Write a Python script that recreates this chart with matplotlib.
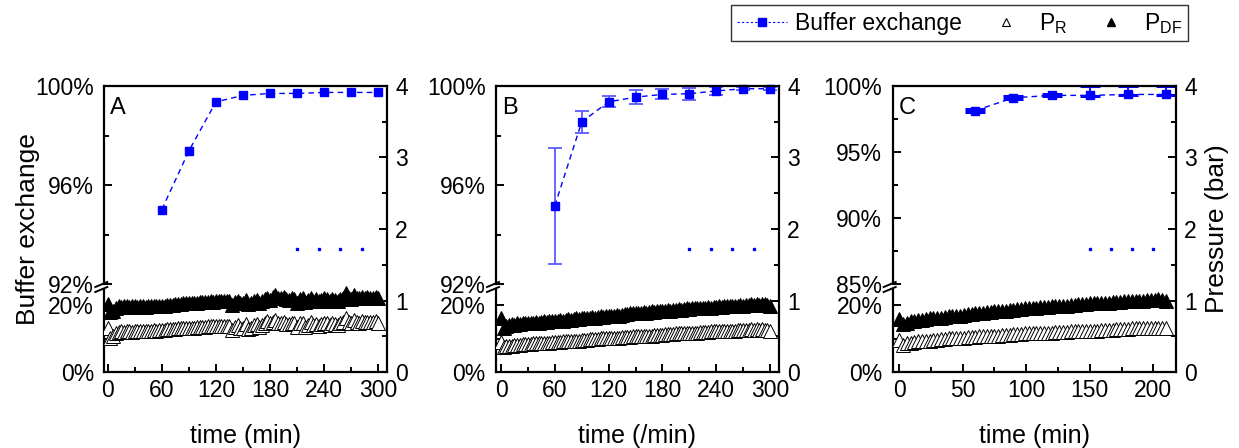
import numpy as np
import matplotlib
matplotlib.use("Agg")
import matplotlib.pyplot as plt
from matplotlib.lines import Line2D
from matplotlib.ticker import MultipleLocator, FuncFormatter

plt.rcParams['font.family'] = ['Liberation Sans', 'DejaVu Sans']
plt.rcParams['mathtext.default'] = 'regular'

# ---- buffer exchange (%), sampled every 30 min ----
bx_time_ab = [60, 90, 120, 150, 180, 210, 240, 270, 300]
bx_time_c = [60, 90, 120, 150, 180, 210]
bx_a = [95.01, 97.38, 99.36, 99.62, 99.70, 99.70, 99.74, 99.74, 99.74]
bx_b = [95.16, 98.55, 99.36, 99.55, 99.66, 99.69, 99.80, 99.89, 99.89]
bx_b_err = [2.34, 0.44, 0.22, 0.28, 0.20, 0.24, 0.15, 0.05, 0.05]
bx_c = [98.14, 99.11, 99.29, 99.29, 99.36, 99.36]
bx_c_err_lo = [0.12, 0.10, 0.08, 0.05, 0.05, 0.05]
bx_c_err_hi = [0.12, 0.10, 0.08, 0.68, 0.62, 0.62]

# dotted marks at ~1.7 bar
dot_time_ab = [210, 234, 258, 282]
dot_time_c = [150, 167, 183, 200]
dot_p = [1.72, 1.72, 1.72, 1.72]

# ---- pressures (bar), logged every 3 min ----
p_time_ab = np.arange(0, 301, 3)
p_time_c = np.arange(0, 211, 3)

pdf_a = [0.95, 0.84, 0.86, 0.90, 0.92, 0.91, 0.93, 0.92, 0.91, 0.93,
         0.92, 0.91, 0.92, 0.92, 0.91, 0.92, 0.92, 0.93, 0.92, 0.93,
         0.93, 0.93, 0.94, 0.94, 0.94, 0.95, 0.95, 0.95, 0.96, 0.96,
         0.96, 0.97, 0.97, 0.97, 0.98, 0.98, 0.98, 0.98, 0.99, 0.98,
         0.99, 0.99, 0.99, 0.99, 1.00, 0.99, 0.94, 0.98, 1.00, 0.96,
         0.97, 1.01, 0.95, 0.96, 1.00, 1.01, 0.97, 1.00, 1.02, 1.04,
         1.01, 1.05, 1.07, 1.03, 1.04, 1.05, 1.02, 1.01, 1.03, 1.02,
         0.97, 1.02, 1.03, 0.98, 1.01, 1.04, 1.00, 1.02, 0.99, 1.01,
         1.03, 1.02, 1.00, 1.02, 1.01, 1.00, 1.02, 1.04, 1.10, 1.04,
         1.02, 1.07, 1.04, 1.03, 1.05, 1.04, 1.05, 1.04, 1.04, 1.05,
         1.03]
pr_a = [0.62, 0.47, 0.50, 0.55, 0.56, 0.57, 0.56, 0.57, 0.57, 0.56,
        0.57, 0.57, 0.58, 0.57, 0.58, 0.58, 0.58, 0.59, 0.58, 0.59,
        0.59, 0.59, 0.60, 0.60, 0.60, 0.60, 0.61, 0.61, 0.61, 0.62,
        0.62, 0.62, 0.62, 0.63, 0.63, 0.63, 0.63, 0.64, 0.64, 0.64,
        0.64, 0.65, 0.65, 0.65, 0.65, 0.65, 0.59, 0.63, 0.66, 0.61,
        0.62, 0.67, 0.60, 0.61, 0.66, 0.67, 0.63, 0.66, 0.68, 0.71,
        0.68, 0.70, 0.73, 0.68, 0.69, 0.70, 0.67, 0.67, 0.68, 0.68,
        0.63, 0.68, 0.69, 0.63, 0.66, 0.70, 0.66, 0.67, 0.65, 0.67,
        0.68, 0.68, 0.66, 0.68, 0.67, 0.66, 0.68, 0.70, 0.75, 0.70,
        0.68, 0.73, 0.70, 0.69, 0.71, 0.70, 0.70, 0.70, 0.70, 0.71,
        0.69]

pdf_b = [0.75, 0.62, 0.65, 0.66, 0.67, 0.66, 0.68, 0.67, 0.68, 0.68,
         0.68, 0.69, 0.69, 0.70, 0.69, 0.70, 0.71, 0.70, 0.71, 0.72,
         0.71, 0.72, 0.73, 0.72, 0.73, 0.74, 0.73, 0.74, 0.75, 0.74,
         0.75, 0.76, 0.75, 0.76, 0.77, 0.76, 0.77, 0.78, 0.77, 0.78,
         0.79, 0.78, 0.79, 0.80, 0.79, 0.80, 0.81, 0.81, 0.82, 0.82,
         0.83, 0.82, 0.83, 0.84, 0.83, 0.84, 0.85, 0.84, 0.85, 0.86,
         0.85, 0.86, 0.87, 0.86, 0.87, 0.87, 0.88, 0.87, 0.88, 0.89,
         0.88, 0.89, 0.89, 0.90, 0.89, 0.90, 0.90, 0.91, 0.90, 0.91,
         0.91, 0.92, 0.91, 0.92, 0.92, 0.93, 0.92, 0.93, 0.93, 0.94,
         0.93, 0.94, 0.94, 0.95, 0.94, 0.95, 0.94, 0.95, 0.95, 0.94,
         0.92]
pr_b = [0.42, 0.35, 0.36, 0.37, 0.37, 0.38, 0.38, 0.38, 0.39, 0.39,
        0.39, 0.39, 0.40, 0.40, 0.40, 0.41, 0.41, 0.41, 0.41, 0.42,
        0.42, 0.42, 0.42, 0.43, 0.43, 0.43, 0.44, 0.44, 0.44, 0.44,
        0.45, 0.45, 0.45, 0.46, 0.46, 0.46, 0.46, 0.47, 0.47, 0.47,
        0.47, 0.48, 0.48, 0.48, 0.48, 0.49, 0.49, 0.49, 0.49, 0.50,
        0.50, 0.50, 0.50, 0.51, 0.51, 0.51, 0.51, 0.52, 0.52, 0.52,
        0.52, 0.53, 0.53, 0.53, 0.53, 0.54, 0.54, 0.54, 0.54, 0.55,
        0.55, 0.55, 0.55, 0.55, 0.56, 0.56, 0.56, 0.56, 0.57, 0.57,
        0.57, 0.57, 0.57, 0.58, 0.58, 0.58, 0.58, 0.58, 0.59, 0.59,
        0.59, 0.59, 0.59, 0.60, 0.59, 0.60, 0.59, 0.60, 0.59, 0.59,
        0.57]

pdf_c = [0.74, 0.67, 0.69, 0.71, 0.72, 0.73, 0.73, 0.74, 0.75, 0.75,
         0.76, 0.76, 0.77, 0.78, 0.78, 0.79, 0.79, 0.80, 0.81, 0.81,
         0.82, 0.82, 0.83, 0.84, 0.84, 0.85, 0.85, 0.86, 0.86, 0.87,
         0.87, 0.88, 0.88, 0.89, 0.89, 0.90, 0.90, 0.91, 0.91, 0.91,
         0.92, 0.92, 0.93, 0.93, 0.93, 0.94, 0.94, 0.95, 0.95, 0.95,
         0.96, 0.96, 0.96, 0.97, 0.97, 0.97, 0.98, 0.98, 0.98, 0.99,
         0.99, 0.99, 1.00, 1.00, 1.00, 1.01, 1.01, 1.01, 1.02, 1.01,
         1.00]
pr_c = [0.45, 0.38, 0.40, 0.41, 0.42, 0.43, 0.43, 0.44, 0.44, 0.45,
        0.45, 0.46, 0.46, 0.47, 0.47, 0.48, 0.48, 0.48, 0.49, 0.49,
        0.49, 0.50, 0.50, 0.50, 0.51, 0.51, 0.51, 0.52, 0.52, 0.52,
        0.53, 0.53, 0.53, 0.54, 0.54, 0.54, 0.54, 0.55, 0.55, 0.55,
        0.55, 0.56, 0.56, 0.56, 0.56, 0.57, 0.57, 0.57, 0.57, 0.58,
        0.58, 0.58, 0.58, 0.59, 0.59, 0.59, 0.59, 0.60, 0.60, 0.60,
        0.60, 0.61, 0.61, 0.61, 0.61, 0.62, 0.62, 0.62, 0.62, 0.62,
        0.62]

W, H = 1239, 448
fig = plt.figure(figsize=(W / 100, H / 100), dpi=100)

BLUE = '#0000ff'
FS = 16.5


def fx(px):
    return px / W


def fy(py):
    return 1 - py / H


pct = FuncFormatter(lambda v, p: f'{v:g}%')


def panel(left_px, right_px, xlim, xmaj, xmin, top_lim, top_maj, top_min, label, xlabel):
    w = fx(right_px) - fx(left_px)
    l = fx(left_px)
    ax_top = fig.add_axes([l, fy(284), w, fy(86) - fy(284)])
    ax_bot = fig.add_axes([l, fy(372), w, fy(290) - fy(372)])
    ax_p = fig.add_axes([l, fy(372), w, fy(86) - fy(372)])
    ax_p.patch.set_alpha(0)

    for ax in (ax_top, ax_bot):
        ax.set_xlim(xlim)
        for s in ('top', 'right', 'bottom'):
            ax.spines[s].set_visible(False)
        ax.spines['left'].set_linewidth(1.6)
        ax.tick_params(axis='x', bottom=False, labelbottom=False)
        ax.tick_params(axis='y', which='both', direction='in', width=1.4,
                       labelsize=FS, pad=7.5)
        ax.tick_params(axis='y', which='major', length=6)
        ax.tick_params(axis='y', which='minor', length=3.5)
        ax.yaxis.set_major_formatter(pct)

    ax_top.set_ylim(top_lim)
    ax_top.set_yticks(top_maj)
    ax_top.set_yticks(top_min, minor=True)
    ax_bot.set_ylim(0, 24.48)
    ax_bot.set_yticks([0, 20])
    ax_bot.set_yticks([10], minor=True)

    ax_p.set_xlim(xlim)
    ax_p.set_ylim(0, 4)
    ax_p.spines['left'].set_visible(False)
    for s in ('top', 'right', 'bottom'):
        ax_p.spines[s].set_linewidth(1.6)
    ax_p.yaxis.tick_right()
    ax_p.xaxis.set_major_locator(MultipleLocator(xmaj))
    ax_p.xaxis.set_minor_locator(MultipleLocator(xmin))
    ax_p.yaxis.set_major_locator(MultipleLocator(1))
    ax_p.yaxis.set_minor_locator(MultipleLocator(0.5))
    ax_p.tick_params(which='both', direction='in', width=1.4, labelsize=FS,
                     top=False, left=False)
    ax_p.tick_params(which='major', length=6)
    ax_p.tick_params(which='minor', length=3.5)
    ax_p.tick_params(axis='y', pad=6)
    ax_p.tick_params(axis='x', pad=5)
    ax_p.set_xlabel(xlabel, fontsize=18, labelpad=16)

    ax_p.text(6 / (right_px - left_px), 1 - 11 / 286, label, transform=ax_p.transAxes,
              fontsize=17, va='top', ha='left')

    # axis break marks on the left spine
    for yb in (284.5, 289.5):
        fig.add_artist(Line2D([fx(left_px - 9), fx(left_px + 3)],
                              [fy(yb + 2.5), fy(yb - 2.5)],
                              color='black', lw=1.4))
    return ax_top, ax_p


tri_kw = dict(linestyle='none', markersize=9.5, markeredgewidth=0.7,
              markeredgecolor='black')
bx_kw = dict(color=BLUE, linestyle=(0, (4, 3)), linewidth=1.0, marker='s',
             markersize=6, markerfacecolor=BLUE, markeredgecolor=BLUE, clip_on=False)

# A
ax_top, ax_p = panel(104.3, 386.7, (-3.8, 309.3), 60, 30, (92, 100), [92, 96, 100],
                     [94, 98], 'A', 'time (min)')
ax_top.plot(bx_time_ab, bx_a, **bx_kw)
ax_p.plot(p_time_ab, pr_a, marker='^', markerfacecolor='white', **tri_kw)
ax_p.plot(p_time_ab, pdf_a, marker='^', markerfacecolor='black', **tri_kw)
ax_p.plot(dot_time_ab, dot_p, 's', color=BLUE, markersize=2)

# B
ax_top, ax_p = panel(496, 779, (-5.6, 310), 60, 30, (92, 100), [92, 96, 100],
                     [94, 98], 'B', 'time (/min)')
ax_top.errorbar(bx_time_ab, bx_b, yerr=bx_b_err, ecolor='#5a5aff', elinewidth=1.3,
                capsize=5, capthick=1.3, **bx_kw)
ax_p.plot(p_time_ab, pr_b, marker='^', markerfacecolor='white', **tri_kw)
ax_p.plot(p_time_ab, pdf_b, marker='^', markerfacecolor='black', **tri_kw)
ax_p.plot(dot_time_ab, dot_p, 's', color=BLUE, markersize=2)

# C
ax_top, ax_p = panel(892.7, 1176, (-5, 217.8), 50, 25, (85, 100), [85, 90, 95, 100],
                     [87.5, 92.5, 97.5], 'C', 'time (min)')
ax_top.errorbar(bx_time_c, bx_c, yerr=[bx_c_err_lo, bx_c_err_hi], ecolor=BLUE,
                elinewidth=1.3, capsize=7, capthick=2.2, **bx_kw)
ax_p.plot(p_time_c, pr_c, marker='^', markerfacecolor='white', **tri_kw)
ax_p.plot(p_time_c, pdf_c, marker='^', markerfacecolor='black', **tri_kw)
ax_p.plot(dot_time_c, dot_p, 's', color=BLUE, markersize=2)

fig.text(fx(28), fy(229), 'Buffer exchange', rotation=90, fontsize=19,
         ha='center', va='center')
fig.text(fx(1217), fy(229), 'Pressure (bar)', rotation=90, fontsize=19,
         ha='center', va='center')

handles = [
    Line2D([], [], color=BLUE, linestyle=(0, (2, 2)), linewidth=0.8, marker='s',
           markersize=6, markerfacecolor=BLUE, markeredgecolor=BLUE),
    Line2D([], [], linestyle='none', marker='^', markersize=6, markerfacecolor='white',
           markeredgecolor='black', markeredgewidth=0.8),
    Line2D([], [], linestyle='none', marker='^', markersize=6, markerfacecolor='black',
           markeredgecolor='black'),
]
leg = fig.legend(handles, ['Buffer exchange', 'P$_R$', 'P$_{DF}$'], ncol=3,
                 loc='upper right', bbox_to_anchor=(fx(1188), fy(5)),
                 fontsize=16.5, frameon=True, fancybox=False, edgecolor='black',
                 borderpad=0.25, handlelength=2.2, handletextpad=0.35,
                 columnspacing=0.8, borderaxespad=0)
leg.get_frame().set_linewidth(1.0)

fig.savefig('out.png', dpi=100)
